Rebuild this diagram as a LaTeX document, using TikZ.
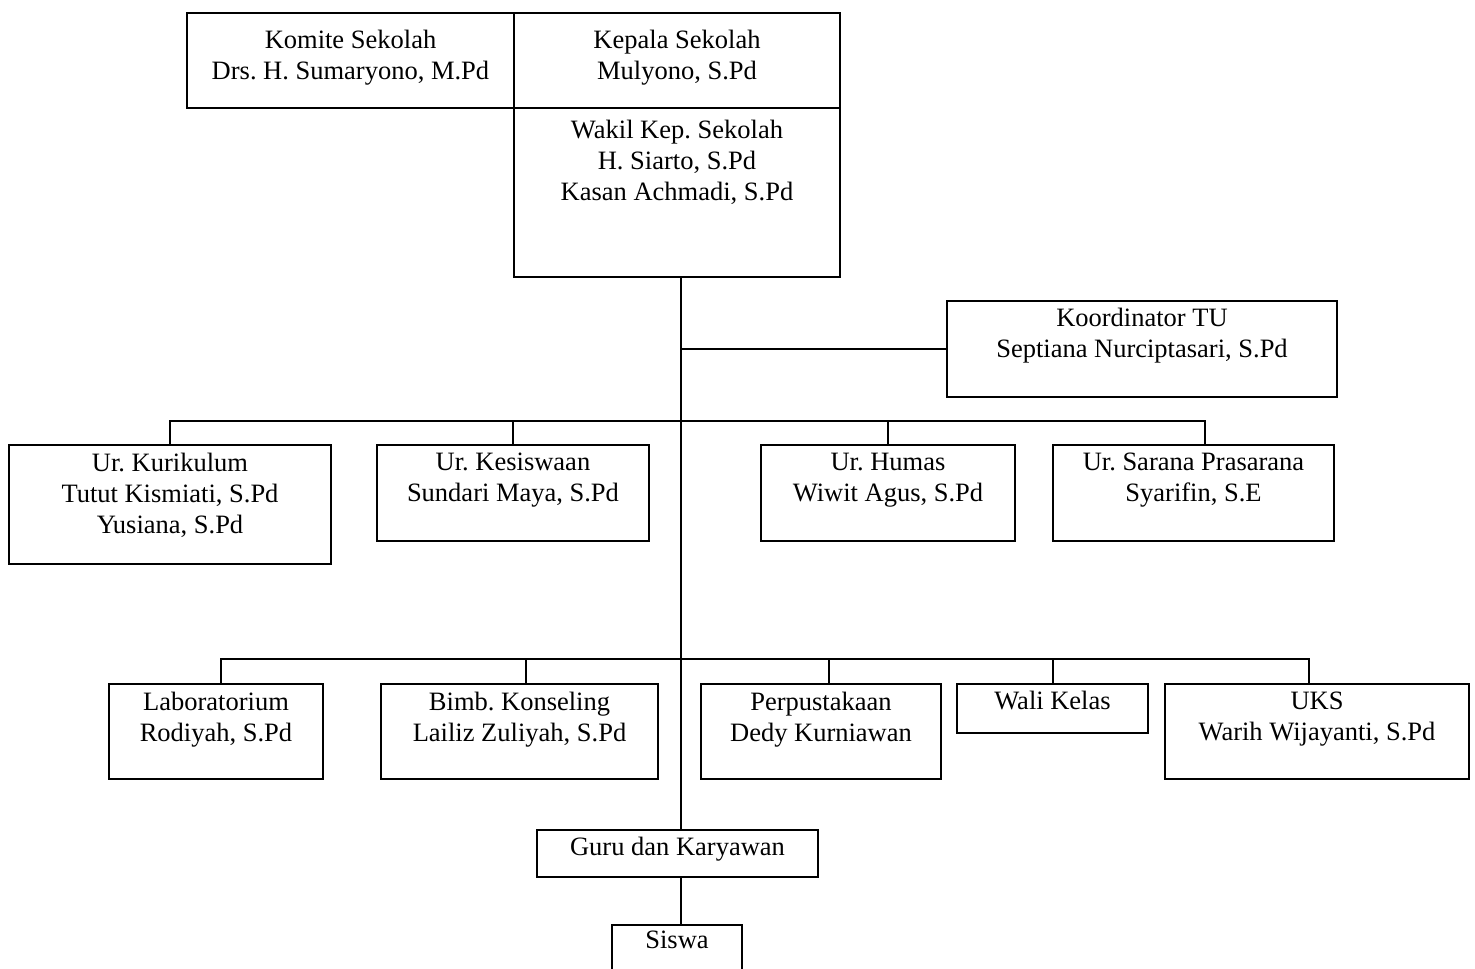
\documentclass[tikz,border=0pt]{standalone}
\usepackage{fontspec}
\setmainfont{Liberation Serif}
\usetikzlibrary{positioning}
\frenchspacing

\begin{document}
\begin{tikzpicture}[x=1pt, y=-1pt,
  box/.style = {draw, line width=2pt, inner sep=0pt},
  txt/.style = {align=center, inner sep=0pt, font=\fontsize{26.5}{31}\selectfont},
  link/.style = {line width=2pt}]
\useasboundingbox (0,0) rectangle (1475,969);
\clip (0,0) rectangle (1475,969);

\node [box, minimum width=327, minimum height=95] (komite) at (350.5,60.5) {};
\node [box, minimum width=326, minimum height=95] (kepala) at (677,60.5) {};
\node [box, minimum width=326, minimum height=169] (wakil) at (677,192.5) {};
\node [box, minimum width=390, minimum height=96] (tu) at (1142,349) {};
\node [box, minimum width=322, minimum height=119] (kurikulum) at (170,504.5) {};
\node [box, minimum width=272, minimum height=96] (kesiswaan) at (513,493) {};
\node [box, minimum width=254, minimum height=96] (humas) at (888,493) {};
\node [box, minimum width=281, minimum height=96] (sarana) at (1193.5,493) {};
\node [box, minimum width=214, minimum height=95] (lab) at (216,731.5) {};
\node [box, minimum width=277, minimum height=95] (bk) at (519.5,731.5) {};
\node [box, minimum width=240, minimum height=95] (perpus) at (821,731.5) {};
\node [box, minimum width=191, minimum height=49] (wali) at (1052.5,708.5) {};
\node [box, minimum width=304, minimum height=95] (uks) at (1317,731.5) {};
\node [box, minimum width=281, minimum height=47] (guru) at (677.5,853.5) {};
\node [box, minimum width=130, minimum height=48] (siswa) at (677,949) {};

\node [txt, below = 18.4pt of komite.north] (komite-t) {Komite Sekolah\\Drs. H. Sumaryono, M.Pd};
\node [txt, below = 18.4pt of kepala.north] (kepala-t) {Kepala Sekolah\\Mulyono, S.Pd};
\node [txt, below = 13pt of wakil.north] (wakil-t) {Wakil Kep. Sekolah\\H. Siarto, S.Pd\\Kasan Achmadi, S.Pd};
\node [txt, below = 7.5pt of tu.north] (tu-t) {Koordinator TU\\Septiana Nurciptasari, S.Pd};
\node [txt, below = 8.5pt of kurikulum.north] (kurikulum-t) {Ur. Kurikulum\\Tutut Kismiati, S.Pd\\Yusiana, S.Pd};
\node [txt, below = 8.5pt of kesiswaan.north] (kesiswaan-t) {Ur. Kesiswaan\\Sundari Maya, S.Pd};
\node [txt, below = 8.5pt of humas.north] (humas-t) {Ur. Humas\\Wiwit Agus, S.Pd};
\node [txt, below = 8.5pt of sarana.north] (sarana-t) {Ur. Sarana Prasarana\\Syarifin, S.E};
\node [txt, below = 8.5pt of lab.north] (lab-t) {Laboratorium\\Rodiyah, S.Pd};
\node [txt, below = 8.5pt of bk.north] (bk-t) {Bimb. Konseling\\Lailiz Zuliyah, S.Pd};
\node [txt, below = 8.5pt of perpus.north] (perpus-t) {Perpustakaan\\Dedy Kurniawan};
\node [txt, below = 8pt of wali.north] (wali-t) {Wali Kelas};
\node [txt, below = 8.5pt of uks.north] (uks-t) {UKS\\Warih Wijayanti, S.Pd};
\node [txt, below = 7.5pt of guru.north] (guru-t) {Guru dan Karyawan};
\node [txt, below = 7pt of siswa.north] (siswa-t) {Siswa};

\coordinate (j1) at (681,349);
\coordinate (j2) at (681,421);
\coordinate (j3) at (681,659);

\draw [link] (wakil.south -| j1) -- (guru.north -| j1);
\draw [link] (guru.south -| j1) -- (siswa.north -| j1);
\draw [link] (j1) -- (tu);
\draw [link] (kurikulum.north) |- (j2) -| ([xshift=11.5]sarana.north);
\draw [link] (kesiswaan.north) -- (kesiswaan.north |- j2);
\draw [link] (humas.north) -- (humas.north |- j2);
\draw [link] ([xshift=5]lab.north) |- (j3) -| ([xshift=-8]uks.north);
\draw [link] ([xshift=6.5]bk.north) -- ([xshift=6.5]bk.north |- j3);
\draw [link] ([xshift=8]perpus.north) -- ([xshift=8]perpus.north |- j3);
\draw [link] (wali.north) -- (wali.north |- j3);
\end{tikzpicture}
\end{document}
